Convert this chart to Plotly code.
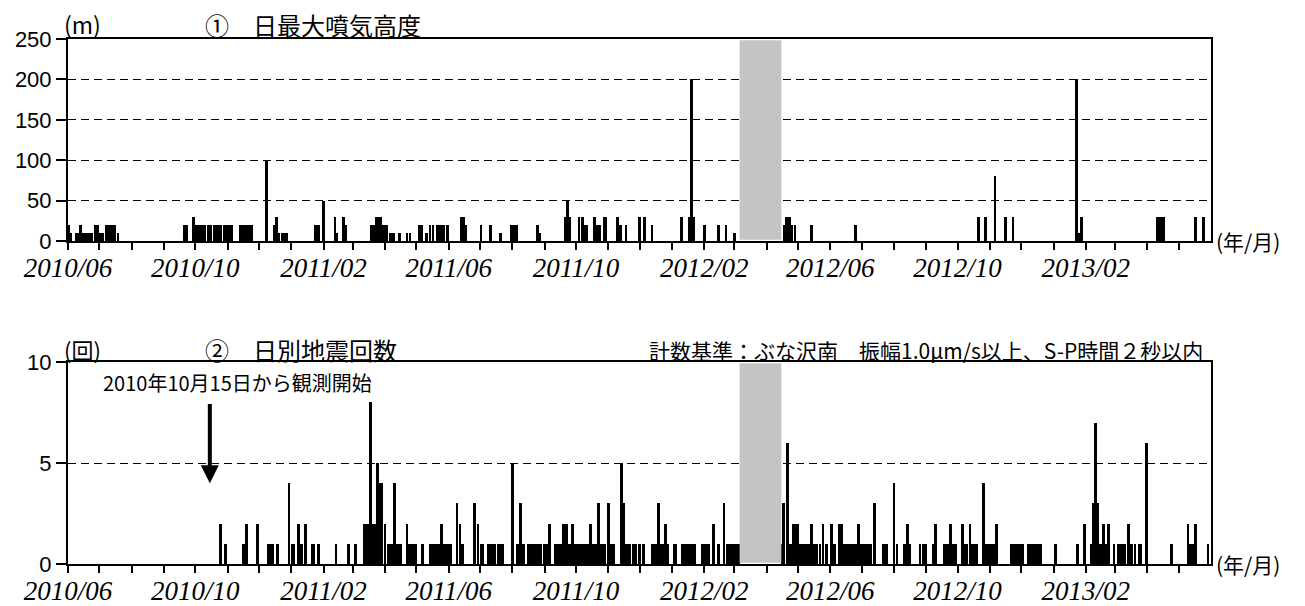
import plotly.graph_objects as go
from plotly.subplots import make_subplots

# ---------------- data ----------------
plume_dates = [
    "2010-06-02", "2010-06-04", "2010-06-09", "2010-06-11", "2010-06-13", "2010-06-16", "2010-06-18",
    "2010-06-20", "2010-06-22", "2010-06-24", "2010-06-27", "2010-06-29", "2010-07-02", "2010-07-04",
    "2010-07-08", "2010-07-10", "2010-07-12", "2010-07-14", "2010-07-16", "2010-07-19",
    "2010-09-21", "2010-09-23", "2010-09-29", "2010-10-01", "2010-10-03", "2010-10-06", "2010-10-08",
    "2010-10-10", "2010-10-14", "2010-10-16", "2010-10-19", "2010-10-21", "2010-10-23", "2010-10-25",
    "2010-10-29", "2010-10-31", "2010-11-02", "2010-11-05", "2010-11-13", "2010-11-15", "2010-11-18",
    "2010-11-20", "2010-11-22", "2010-11-24",
    "2010-12-08", "2010-12-16", "2010-12-18", "2010-12-20", "2010-12-24", "2010-12-26", "2010-12-28",
    "2011-01-24", "2011-01-27", "2011-02-01", "2011-02-12", "2011-02-14", "2011-02-20", "2011-02-22",
    "2011-03-19", "2011-03-21", "2011-03-24", "2011-03-26", "2011-03-28", "2011-03-30", "2011-04-01",
    "2011-04-03", "2011-04-06", "2011-04-09", "2011-04-15", "2011-04-22", "2011-04-25",
    "2011-05-04", "2011-05-06", "2011-05-11", "2011-05-14", "2011-05-17", "2011-05-21", "2011-05-24",
    "2011-05-27", "2011-05-31", "2011-06-13", "2011-06-15", "2011-06-17", "2011-07-02", "2011-07-11",
    "2011-07-21", "2011-07-31", "2011-08-02", "2011-08-05", "2011-08-25", "2011-08-27",
    "2011-09-21", "2011-09-23", "2011-09-25", "2011-10-04", "2011-10-07", "2011-10-09", "2011-10-11",
    "2011-10-19", "2011-10-22", "2011-10-24", "2011-10-28", "2011-10-30", "2011-11-10", "2011-11-13",
    "2011-11-18", "2011-12-01", "2011-12-06", "2011-12-13",
    "2012-01-10", "2012-01-18", "2012-01-20", "2012-01-22", "2012-02-01", "2012-02-15", "2012-02-22",
    "2012-03-01", "2012-04-18", "2012-04-20", "2012-04-23", "2012-04-25", "2012-04-28", "2012-05-14",
    "2012-06-25", "2012-10-21", "2012-10-28", "2012-11-06", "2012-11-16", "2012-11-23",
    "2013-01-23", "2013-01-25", "2013-01-28", "2013-04-11", "2013-04-13", "2013-04-15", "2013-04-17",
    "2013-05-17", "2013-05-25",
]
plume_heights = [
    20, 10, 10, 10, 20, 10, 10,
    10, 10, 10, 20, 20, 10, 10,
    20, 20, 20, 20, 20, 10,
    20, 20, 30, 20, 20, 20, 20,
    20, 20, 20, 20, 20, 20, 20,
    20, 20, 20, 20, 20, 20, 20,
    20, 20, 20,
    100, 20, 30, 10, 10, 10, 10,
    20, 20, 50, 30, 10, 30, 20,
    20, 20, 30, 30, 30, 20, 20,
    20, 10, 10, 10, 10, 10,
    20, 20, 10, 20, 20, 20, 20,
    20, 20, 30, 30, 20, 20, 20,
    10, 20, 20, 20, 20, 10,
    30, 50, 30, 30, 30, 20, 20,
    30, 20, 20, 30, 30, 30, 20,
    20, 30, 30, 20,
    30, 30, 200, 30, 20, 20, 20,
    10, 20, 30, 30, 20, 20, 20,
    20, 30, 30, 80, 30, 30,
    200, 10, 30, 30, 30, 30, 30,
    30, 30,
]

quake_dates = [
    "2010-10-25", "2010-10-30", "2010-11-16", "2010-11-19", "2010-11-30", "2010-12-10", "2010-12-12",
    "2010-12-14", "2010-12-19", "2010-12-30", "2011-01-02", "2011-01-03", "2011-01-08", "2011-01-11",
    "2011-01-15", "2011-01-21", "2011-01-23", "2011-01-27", "2011-02-13", "2011-02-25", "2011-03-04",
    "2011-03-12", "2011-03-14", "2011-03-16", "2011-03-18", "2011-03-20", "2011-03-22", "2011-03-25",
    "2011-03-27", "2011-03-29", "2011-04-01", "2011-04-04", "2011-04-06", "2011-04-08", "2011-04-10",
    "2011-04-12", "2011-04-14", "2011-04-16", "2011-04-22", "2011-04-24", "2011-04-26", "2011-04-28",
    "2011-04-30", "2011-05-07", "2011-05-14", "2011-05-16", "2011-05-18", "2011-05-20", "2011-05-22",
    "2011-05-25", "2011-05-28", "2011-05-30", "2011-06-01", "2011-06-03", "2011-06-09", "2011-06-12",
    "2011-06-14", "2011-06-26", "2011-06-29", "2011-07-02", "2011-07-04", "2011-07-09", "2011-07-11",
    "2011-07-13", "2011-07-15", "2011-07-19", "2011-07-21", "2011-07-23", "2011-08-01", "2011-08-06",
    "2011-08-09", "2011-08-12", "2011-08-16", "2011-08-18", "2011-08-20", "2011-08-22", "2011-08-24",
    "2011-08-26", "2011-08-28", "2011-09-01", "2011-09-03", "2011-09-06", "2011-09-11", "2011-09-13",
    "2011-09-15", "2011-09-17", "2011-09-19", "2011-09-22", "2011-09-25", "2011-09-28", "2011-09-30",
    "2011-10-02", "2011-10-04", "2011-10-06", "2011-10-08", "2011-10-10", "2011-10-12", "2011-10-15",
    "2011-10-17", "2011-10-19", "2011-10-21", "2011-10-23", "2011-10-25", "2011-10-27", "2011-10-29",
    "2011-11-01", "2011-11-04", "2011-11-06", "2011-11-14", "2011-11-16", "2011-11-18", "2011-11-20",
    "2011-11-22", "2011-11-25", "2011-11-27", "2011-12-01", "2011-12-05", "2011-12-13", "2011-12-15",
    "2011-12-17", "2011-12-19", "2011-12-21", "2011-12-23", "2011-12-26", "2011-12-28", "2012-01-03",
    "2012-01-05", "2012-01-11", "2012-01-13", "2012-01-15", "2012-01-17", "2012-01-19", "2012-01-21",
    "2012-01-23", "2012-01-30", "2012-02-01", "2012-02-03", "2012-02-05", "2012-02-10", "2012-02-15",
    "2012-02-20", "2012-02-23", "2012-02-25", "2012-02-27", "2012-02-29", "2012-03-03", "2012-03-05",
    "2012-04-16", "2012-04-17", "2012-04-21", "2012-04-24", "2012-04-27", "2012-04-29", "2012-05-01",
    "2012-05-03", "2012-05-05", "2012-05-07", "2012-05-09", "2012-05-11", "2012-05-14", "2012-05-16",
    "2012-05-19", "2012-05-22", "2012-05-25", "2012-05-28", "2012-06-02", "2012-06-05", "2012-06-10",
    "2012-06-12", "2012-06-14", "2012-06-16", "2012-06-18", "2012-06-20", "2012-06-22", "2012-06-24",
    "2012-06-26", "2012-06-28", "2012-06-30", "2012-07-02", "2012-07-04", "2012-07-06", "2012-07-08",
    "2012-07-10", "2012-07-13", "2012-07-22", "2012-07-25", "2012-08-01", "2012-08-04", "2012-08-11",
    "2012-08-14", "2012-08-16", "2012-08-26", "2012-08-29", "2012-08-31", "2012-09-08", "2012-09-10",
    "2012-09-18", "2012-09-20", "2012-09-22", "2012-09-24", "2012-09-27", "2012-09-29", "2012-10-06",
    "2012-10-08", "2012-10-10", "2012-10-13", "2012-10-15", "2012-10-17", "2012-10-19", "2012-10-26",
    "2012-10-28", "2012-10-30", "2012-11-01", "2012-11-03", "2012-11-05", "2012-11-07", "2012-11-22",
    "2012-11-24", "2012-11-26", "2012-11-28", "2012-11-30", "2012-12-02", "2012-12-08", "2012-12-10",
    "2012-12-12", "2012-12-14", "2012-12-16", "2012-12-18", "2012-12-20", "2013-01-03", "2013-01-24",
    "2013-01-31", "2013-02-06", "2013-02-08", "2013-02-10", "2013-02-12", "2013-02-15", "2013-02-18",
    "2013-02-21", "2013-02-23", "2013-02-28", "2013-03-04", "2013-03-06", "2013-03-08", "2013-03-10",
    "2013-03-14", "2013-03-17", "2013-03-20", "2013-03-24", "2013-03-26", "2013-03-31", "2013-04-24",
    "2013-05-10", "2013-05-12", "2013-05-14", "2013-05-17", "2013-05-29",
]
quake_counts = [
    2, 1, 1, 2, 2, 1, 1,
    1, 1, 4, 1, 1, 2, 1,
    2, 1, 1, 1, 1, 1, 1,
    2, 2, 2, 8, 2, 2, 5,
    4, 4, 2, 1, 1, 1, 4,
    1, 1, 1, 2, 1, 1, 1,
    1, 1, 1, 1, 1, 1, 1,
    2, 1, 1, 1, 1, 3, 2,
    1, 3, 2, 1, 1, 1, 1,
    1, 1, 1, 1, 1, 5, 1,
    3, 1, 1, 1, 1, 1, 1,
    1, 1, 1, 1, 2, 1, 1,
    1, 1, 2, 2, 1, 2, 1,
    1, 1, 1, 1, 1, 1, 2,
    1, 1, 1, 3, 1, 1, 1,
    3, 1, 1, 5, 3, 1, 1,
    1, 1, 1, 1, 1, 1, 1,
    1, 3, 1, 1, 2, 1, 1,
    1, 1, 1, 1, 1, 1, 1,
    1, 1, 1, 1, 1, 2, 1,
    3, 1, 1, 1, 1, 1, 1,
    1, 3, 6, 1, 2, 2, 2,
    1, 1, 1, 1, 1, 2, 1,
    1, 1, 2, 1, 2, 1, 2,
    2, 1, 1, 1, 1, 1, 1,
    1, 2, 1, 1, 1, 1, 1,
    1, 3, 1, 1, 4, 1, 1,
    2, 1, 1, 1, 1, 1, 2,
    1, 1, 1, 2, 1, 1, 2,
    1, 1, 2, 1, 1, 1, 4,
    1, 1, 1, 1, 1, 2, 1,
    1, 1, 1, 1, 1, 1, 1,
    1, 1, 1, 1, 1, 1, 1,
    2, 1, 3, 7, 3, 1, 2,
    1, 2, 1, 1, 1, 1, 1,
    2, 1, 1, 1, 1, 6, 1,
    2, 1, 1, 2, 1,
]

# period without observation (grey band)
gap_start = "2012-03-06"
gap_end = "2012-04-15"

# observation start note
obs_start_date = "2010-10-15"

month_ticks = [
    "2010-06-01", "2010-07-01", "2010-08-01", "2010-09-01", "2010-10-01", "2010-11-01", "2010-12-01",
    "2011-01-01", "2011-02-01", "2011-03-01", "2011-04-01", "2011-05-01", "2011-06-01", "2011-07-01",
    "2011-08-01", "2011-09-01", "2011-10-01", "2011-11-01", "2011-12-01", "2012-01-01", "2012-02-01",
    "2012-03-01", "2012-04-01", "2012-05-01", "2012-06-01", "2012-07-01", "2012-08-01", "2012-09-01",
    "2012-10-01", "2012-11-01", "2012-12-01", "2013-01-01", "2013-02-01", "2013-03-01", "2013-04-01",
    "2013-05-01",
]
month_labels = [
    "2010/06", "", "", "", "2010/10", "", "",
    "", "2011/02", "", "", "", "2011/06", "",
    "", "", "2011/10", "", "", "", "2012/02",
    "", "", "", "2012/06", "", "", "",
    "2012/10", "", "", "", "2013/02", "", "",
    "",
]
x_range = ["2010-06-01", "2013-06-01"]

plume_ticks = [0, 50, 100, 150, 200, 250]
quake_ticks = [0, 5, 10]

# ---------------- figure ----------------
# the page body has an 8px margin, so the figure is sized to fit inside it
OFF = 8
W, H = 1305 - OFF, 606 - OFF
PL, PR, PT, PB = 68, 1211, 39, 564          # plot box in page pixels
ML, MR, MT, MB = PL - OFF, W - (PR - OFF), PT - OFF, H - (PB - OFF)
PW = PR - PL
PH = PB - PT


def px_x(px):
    return (px - PL) / PW


def px_y(py):
    return (PB - py) / PH


fig = make_subplots(rows=2, cols=1, shared_xaxes=False, vertical_spacing=0.0)

bar_w = 2.6 * 86400000

fig.add_trace(go.Bar(x=plume_dates, y=plume_heights, width=bar_w,
                     marker=dict(color="black", line=dict(width=0)), showlegend=False),
              row=1, col=1)
fig.add_trace(go.Bar(x=quake_dates, y=quake_counts, width=bar_w,
                     marker=dict(color="black", line=dict(width=0)), showlegend=False),
              row=2, col=1)

jp = "Noto Sans CJK JP"
tickfont_x = dict(family="Liberation Serif", size=27, color="black", style="italic")
tickfont_y = dict(family="Liberation Sans", size=22, color="black")

xcommon = dict(type="date", range=x_range, tickmode="array", tickvals=month_ticks,
               ticktext=month_labels, ticks="outside", ticklen=7, tickwidth=1.5,
               tickcolor="black", showline=True, linecolor="black", linewidth=2,
               mirror=True, showgrid=False, zeroline=False, tickfont=tickfont_x,
               tickangle=0, ticklabelstandoff=-5)
ycommon = dict(ticks="outside", ticklen=10, tickwidth=1.5, tickcolor="black",
               showline=True, linecolor="black", linewidth=2, mirror=True,
               showgrid=True, gridcolor="black", gridwidth=1.2, griddash="8px,5px",
               zeroline=False, tickfont=tickfont_y, tickmode="array")

fig.update_layout(
    width=W, height=H,
    margin=dict(l=ML, r=MR, t=MT, b=MB, autoexpand=False),
    paper_bgcolor="white", plot_bgcolor="white",
    bargap=0, barmode="overlay",
    xaxis=dict(**xcommon, domain=[0, 1]),
    xaxis2=dict(**xcommon, domain=[0, 1]),
    yaxis=dict(**ycommon, range=[0, 250], tickvals=plume_ticks, domain=[px_y(241), 1]),
    yaxis2=dict(**ycommon, range=[0, 10], tickvals=quake_ticks, domain=[0, px_y(362)]),
)

# grey band (no observation), kept just inside the frame lines
for xr, yr in (("x", "y domain"), ("x2", "y2 domain")):
    fig.add_shape(type="rect", xref=xr, yref=yr, x0=gap_start, x1=gap_end, y0=0.006, y1=0.994,
                  fillcolor="#c4c4c4", line=dict(width=0), layer="above")

ann = []
ann.append(dict(text="(m)", x=px_x(82), y=px_y(24), xanchor="center", yanchor="middle",
                font=dict(family=jp, size=23, color="black")))
ann.append(dict(text="①　日最大噴気高度", x=px_x(203), y=px_y(24), xanchor="left",
                yanchor="middle", font=dict(family=jp, size=24, color="black")))
ann.append(dict(text="(回)", x=px_x(82), y=px_y(349), xanchor="center", yanchor="middle",
                font=dict(family=jp, size=22, color="black")))
ann.append(dict(text="②　日別地震回数", x=px_x(203), y=px_y(349), xanchor="left",
                yanchor="middle", font=dict(family=jp, size=24, color="black")))
ann.append(dict(text="計数基準：ぶな沢南　振幅1.0μm/s以上、S-P時間２秒以内",
                x=px_x(1205), y=px_y(350), xanchor="right", yanchor="middle",
                font=dict(family=jp, size=21, color="black")))
ann.append(dict(text="2010年10月15日から観測開始", x=px_x(101), y=px_y(382),
                xanchor="left", yanchor="middle",
                font=dict(family=jp, size=20, color="black")))
ann.append(dict(text="(年/月)", x=px_x(1214), y=px_y(241), xanchor="left", yanchor="middle",
                font=dict(family=jp, size=21, color="black")))
ann.append(dict(text="(年/月)", x=px_x(1214), y=px_y(564), xanchor="left", yanchor="middle",
                font=dict(family=jp, size=21, color="black")))
for a in ann:
    a.update(xref="paper", yref="paper", showarrow=False)
    fig.add_annotation(**a)

fig.add_annotation(x=obs_start_date, y=4, ax=obs_start_date, ay=8, xref="x2", yref="y2",
                   axref="x2", ayref="y2", text="", showarrow=True, arrowhead=2,
                   arrowsize=0.9, arrowwidth=4, arrowcolor="black", standoff=0,
                   startstandoff=0)

fig.write_html("out.html")
